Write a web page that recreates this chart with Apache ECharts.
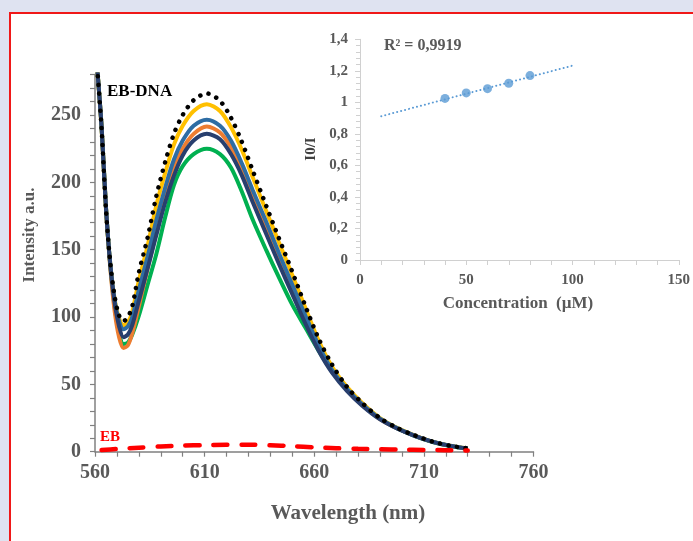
<!DOCTYPE html>
<html>
<head>
<meta charset="utf-8">
<script src="https://cdn.jsdelivr.net/npm/echarts@6/dist/echarts.min.js"></script>
<style>
  html, body { margin: 0; padding: 0; width: 693px; height: 541px; overflow: hidden; background: #dfe3f1; }
  #frame { position: absolute; left: 9px; top: 12px; width: 720px; height: 560px; background: #ffffff; border: 2px solid #f01818; }
  #chart { position: absolute; left: 0; top: 0; width: 693px; height: 541px; }
</style>
</head>
<body>
<div id="frame"></div>
<div id="chart"></div>
<script>
// Emission wavelengths (nm) shared by the fluorescence spectra
const wavelengths = [561, 563, 565, 567, 569, 571, 573, 575, 577, 580, 584, 588, 592, 596, 600, 605, 611, 617, 622, 627, 632, 638, 644, 650, 656, 662, 668, 675, 682, 690, 698, 706, 714, 722, 730];

// EB-DNA complex without quencher (dotted) and with increasing concentrations
const ebDna   = [285, 240, 180, 140, 115, 101, 97, 100, 108, 133, 159, 190, 215, 236, 250, 261, 266, 260.5, 248, 230, 208.5, 183, 158, 133.5, 108, 84, 65, 48, 36, 25, 17.5, 12, 7.5, 4.4, 2.5];
const conc1   = [285, 240, 180, 139, 113, 99, 94, 96, 104, 127, 153, 183, 207, 228, 242, 253, 258, 253, 241, 224, 203.5, 179, 155, 131, 106.5, 82.5, 63.5, 48, 36, 25, 17.5, 12, 7.5, 4.5, 2.5];
const conc2   = [285, 241, 181, 139, 112, 97, 91, 93, 100, 120, 145, 172, 196, 217, 231, 242, 246.5, 242, 231, 214, 194, 171, 147, 124, 101, 79, 61, 46.5, 35, 24.5, 17.3, 11.8, 7.4, 4.4, 2.4];
const conc3   = [285, 242, 182, 136, 104, 85, 77, 79, 88, 108, 136, 163, 189, 210, 225, 236, 241.5, 237, 226, 209, 189, 166, 143, 120, 98, 77, 60, 46, 34.5, 24.3, 17.2, 11.7, 7.3, 4.3, 2.3];
const conc4   = [285, 241, 181, 138, 110, 93, 85, 87, 94, 112, 136, 161, 185, 205, 220, 231, 236, 232, 221, 205, 185, 162, 139, 117, 95, 75, 59, 45, 34, 24, 17, 11.6, 7.3, 4.3, 2.3];
const conc5   = [285, 242, 182, 137, 107, 88, 80, 81, 87, 101, 124, 147, 174, 198, 212, 221, 225, 221, 211, 193, 172, 150, 129, 109, 92, 75, 60, 46, 35, 24.5, 17.2, 11.6, 7.2, 4.2, 2.2];

// Free ethidium bromide (red dashed)
const ebWavelengths = [563, 570, 580, 590, 600, 610, 620, 630, 640, 650, 660, 670, 680, 690, 700, 710, 720, 730];
const ebFree        = [1.2, 2, 3, 3.9, 4.5, 4.9, 5.2, 5.2, 4.8, 4.1, 3.3, 2.6, 2.1, 1.8, 1.5, 1.3, 1.1, 0.9];

// Stern-Volmer inset: quencher concentration (µM) vs I0/I
const concentrations = [40, 50, 60, 70, 80];
const ratioI0I       = [1.025, 1.06, 1.087, 1.121, 1.17];
const trendX = [10, 100];
const trendY = [0.912, 1.233];
const rSquaredText = 'R² = 0,9919';

const serif = '"Liberation Serif", "Times New Roman", serif';
const labelGray = '#595959';

function pairs(xs, ys) { return xs.map((x, i) => [x, ys[i]]); }

function spectrum(name, values, color, z) {
  return {
    name: name, type: 'line', xAxisIndex: 0, yAxisIndex: 0,
    data: pairs(wavelengths, values), showSymbol: false, smooth: 0.3,
    lineStyle: { color: color, width: 4 }, z: z, silent: true
  };
}

const chart = echarts.init(document.getElementById('chart'), null, { renderer: 'canvas' });

chart.setOption({
  animation: false,
  backgroundColor: 'transparent',
  grid: [
    { left: 95, right: 159.5, top: 74.6, bottom: 89.3 },
    { left: 360, right: 13.5, top: 39.3, bottom: 281 }
  ],
  xAxis: [
    {
      gridIndex: 0, type: 'value', min: 560, max: 760, interval: 10,
      axisLine: { onZero: true, lineStyle: { color: '#808080', width: 1.5 } },
      axisTick: { show: true, length: 5, lineStyle: { color: '#808080', width: 1.2 } },
      axisLabel: {
        margin: 11, color: labelGray, fontFamily: serif, fontWeight: 'bold', fontSize: 20,
        formatter: v => ((v - 560) % 50 === 0 ? String(v) : '')
      },
      splitLine: { show: false }
    },
    {
      gridIndex: 1, type: 'value', min: 0, max: 150, interval: 50,
      axisLine: { lineStyle: { color: '#d0d0d0', width: 1 } },
      axisTick: { show: true, length: 5, lineStyle: { color: '#d0d0d0' } },
      minorTick: { show: true, splitNumber: 5, length: 5, lineStyle: { color: '#d0d0d0' } },
      axisLabel: { margin: 13, color: labelGray, fontFamily: serif, fontWeight: 'bold', fontSize: 15 },
      splitLine: { show: false }
    }
  ],
  yAxis: [
    {
      gridIndex: 0, type: 'value', min: 0, max: 280, interval: 10,
      axisLine: { show: true, lineStyle: { color: '#808080', width: 1.5 } },
      axisTick: { show: true, length: 5, lineStyle: { color: '#808080', width: 1.2 } },
      axisLabel: {
        margin: 14, color: labelGray, fontFamily: serif, fontWeight: 'bold', fontSize: 20,
        formatter: v => (v % 50 === 0 ? String(v) : '')
      },
      splitLine: { show: false }
    },
    {
      gridIndex: 1, type: 'value', min: 0, max: 1.4, interval: 0.2,
      axisLine: { show: true, lineStyle: { color: '#d0d0d0', width: 1 } },
      axisTick: { show: true, length: 5, lineStyle: { color: '#d0d0d0' } },
      minorTick: { show: true, splitNumber: 5, length: 4, lineStyle: { color: '#d0d0d0' } },
      axisLabel: {
        margin: 12, color: labelGray, fontFamily: serif, fontWeight: 'bold', fontSize: 15,
        formatter: v => String(Math.round(v * 10) / 10).replace('.', ',')
      },
      splitLine: { show: false }
    }
  ],
  series: [
    spectrum('conc5', conc5, '#00b050', 2),
    spectrum('conc3', conc3, '#ed7d31', 3),
    spectrum('conc1', conc1, '#ffc000', 4),
    spectrum('conc2', conc2, '#2e6da4', 5),
    spectrum('conc4', conc4, '#283f6e', 6),
    {
      name: 'EB-DNA', type: 'line', xAxisIndex: 0, yAxisIndex: 0,
      data: pairs(wavelengths, ebDna), showSymbol: false, smooth: 0.3, z: 7, silent: true,
      lineStyle: { color: '#000000', width: 4.5, type: [0.1, 8.5], cap: 'round' }
    },
    {
      name: 'EB', type: 'line', xAxisIndex: 0, yAxisIndex: 0,
      data: pairs(ebWavelengths, ebFree), showSymbol: false, smooth: 0.3, z: 8, silent: true,
      lineStyle: { color: '#ff0000', width: 4.5, type: [14, 14], cap: 'round' }
    },
    {
      name: 'trend', type: 'line', xAxisIndex: 1, yAxisIndex: 1,
      data: pairs(trendX, trendY), showSymbol: false, silent: true,
      lineStyle: { color: '#5b9bd5', width: 2, type: [0.1, 4], cap: 'round' }
    },
    {
      name: 'I0/I', type: 'scatter', xAxisIndex: 1, yAxisIndex: 1,
      data: pairs(concentrations, ratioI0I), symbol: 'circle', symbolSize: 9, silent: true,
      itemStyle: { color: '#5b9bd5' }
    }
  ],
  graphic: [
    { type: 'text', x: 348, y: 514, style: { text: 'Wavelength (nm)', fill: labelGray, font: 'bold 21px ' + serif, textAlign: 'center', textVerticalAlign: 'middle' } },
    { type: 'text', x: 30, y: 235, rotation: Math.PI / 2, style: { text: 'Intensity a.u.', fill: labelGray, font: 'bold 17px ' + serif, textAlign: 'center', textVerticalAlign: 'middle' } },
    { type: 'text', x: 311, y: 149, rotation: Math.PI / 2, style: { text: 'I0/I', fill: '#404040', font: 'bold 15px ' + serif, textAlign: 'center', textVerticalAlign: 'middle' } },
    { type: 'text', x: 518, y: 304, style: { text: 'Concentration  (µM)', fill: labelGray, font: 'bold 17px ' + serif, textAlign: 'center', textVerticalAlign: 'middle' } },
    { type: 'text', x: 384, y: 46, style: { text: rSquaredText, fill: labelGray, font: 'bold 16px ' + serif, textAlign: 'left', textVerticalAlign: 'middle' } },
    { type: 'text', x: 107, y: 92, style: { text: 'EB-DNA', fill: '#000000', font: 'bold 17px ' + serif, textAlign: 'left', textVerticalAlign: 'middle' } },
    { type: 'text', x: 100, y: 437, style: { text: 'EB', fill: '#ff0000', font: 'bold 15px ' + serif, textAlign: 'left', textVerticalAlign: 'middle' } }
  ]
});
</script>
</body>
</html>
